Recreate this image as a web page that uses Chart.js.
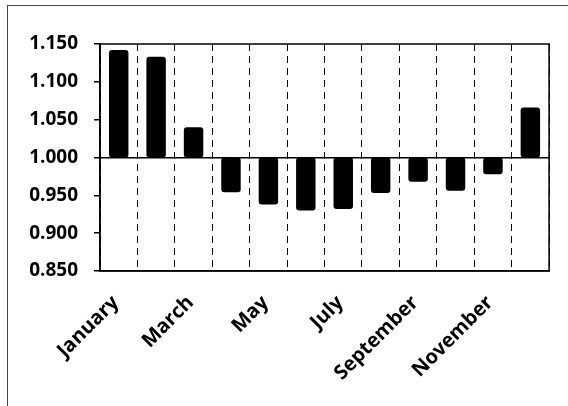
<!DOCTYPE html>
<html><head><meta charset="utf-8">
<script src="https://cdn.jsdelivr.net/npm/chart.js@4.4.0/dist/chart.umd.min.js"></script>
<style>
html,body{margin:0;padding:0;background:#fff;}
#wrap{position:absolute;left:0;top:0;width:568px;height:406px;}
#frame{position:absolute;left:7px;top:5px;width:570px;height:420px;border-left:1.5px solid #444;border-top:1.5px solid #444;}
canvas{position:absolute;left:0;top:0;}
</style></head>
<body><div id="wrap"><div id="frame"></div><canvas id="c" width="568" height="406"></canvas></div>
<script>
const categories = ['January','February','March','April','May','June','July','August','September','October','November','December'];
const tickLabels = ['January','','March','','May','','July','','September','','November',''];
const baseValue = 1.000;
const values = [1.142, 1.133, 1.040, 0.954, 0.938, 0.930, 0.932, 0.953, 0.968, 0.956, 0.978, 1.066];
const yTicks = [0.850, 0.900, 0.950, 1.000, 1.050, 1.100, 1.150];

const frame = {
  id:'frame',
  afterDraw(chart){
    const a = chart.chartArea, ctx = chart.ctx;
    ctx.save(); ctx.strokeStyle='#000'; ctx.lineWidth=1.5;
    ctx.strokeRect(a.left, a.top, a.right-a.left, a.bottom-a.top);
    ctx.restore();
  }
};

new Chart(document.getElementById('c'), {
  type:'bar',
  data:{
    labels:categories,
    datasets:[{
      data: values.map(v => [baseValue, v]),
      backgroundColor:'#000',
      borderColor:'#000',
      borderWidth:0,
      borderRadius:3,
      borderSkipped:false,
      barPercentage:0.52,
      categoryPercentage:1.0
    }]
  },
  options:{
    responsive:false,
    animation:false,
    layout:{padding:{left:0,top:44,right:16,bottom:0}},
    plugins:{legend:{display:false},tooltip:{enabled:false}},
    scales:{
      x:{
        grid:{display:true, offset:true, color:'#000', lineWidth:1, drawTicks:false},
        border:{display:true, color:'#000', width:1.5, dash:[7,5]},
        ticks:{
          autoSkip:false, minRotation:45, maxRotation:45, padding:20, labelOffset:-3,
          color:'#000', font:{family:'Open Sans', weight:'700', size:20},
          callback:(v,i)=>tickLabels[i]
        },
        afterFit(s){ s.height = 406-271; }
      },
      y:{
        min:0.85, max:1.15,
        afterBuildTicks(s){ s.ticks = yTicks.map(v=>({value:v})); },
        grid:{
          color:(c)=> (c.tick && Math.abs(c.tick.value-1)<1e-9) ? '#000' : 'rgba(0,0,0,0)',
          tickColor:'#000', lineWidth:1.5, tickLength:6
        },
        border:{display:true,color:'#000',width:1.5},
        ticks:{
          padding:16, color:'#000', font:{family:'Open Sans', weight:'700', size:19},
          callback:(v)=>Number(v).toFixed(3)
        },
        afterFit(s){ s.width = 100; }
      }
    }
  },
  plugins:[frame]
});
</script></body></html>
